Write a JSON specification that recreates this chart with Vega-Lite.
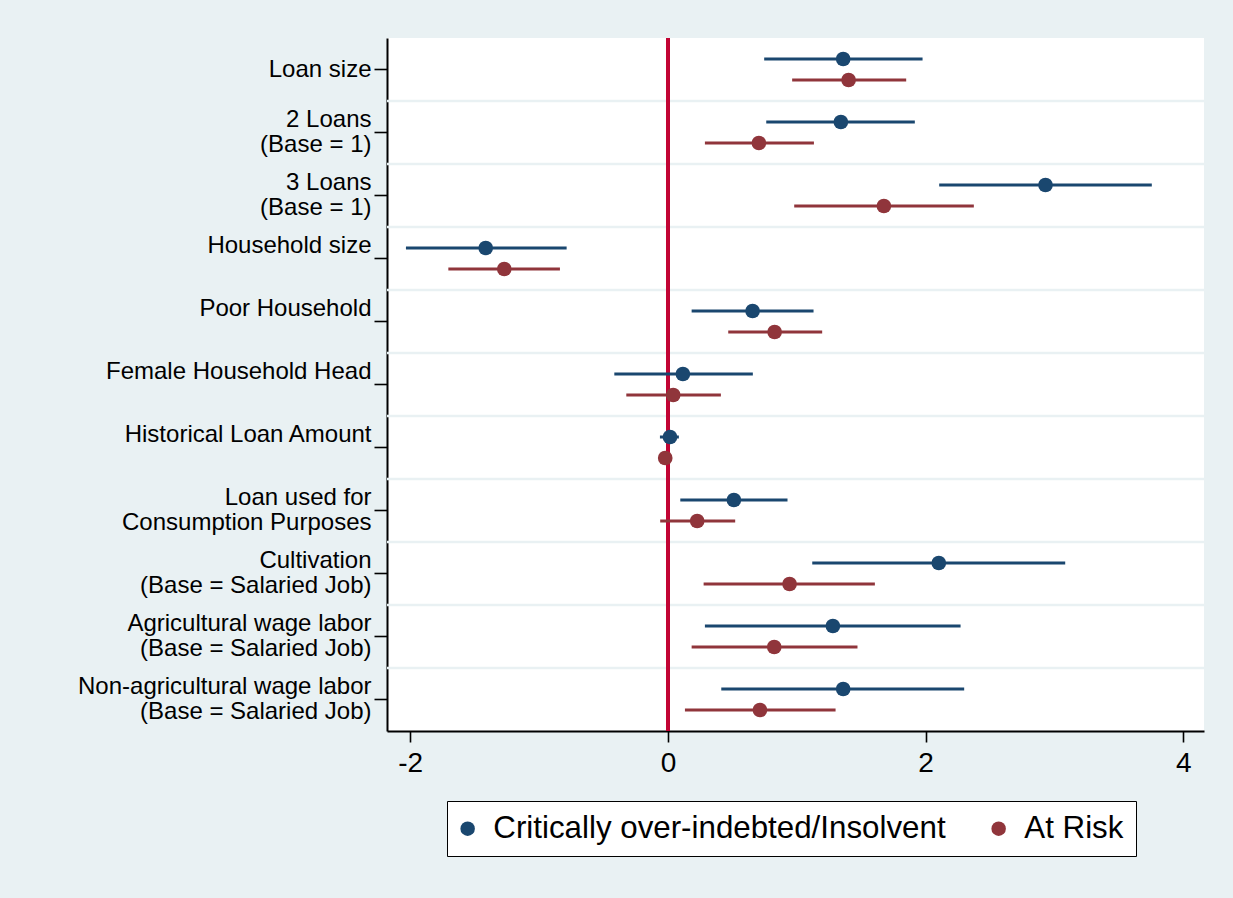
{
  "$schema": "https://vega.github.io/schema/vega-lite/v6.json",
  "width": 817,
  "height": 693,
  "autosize": {"type": "none"},
  "padding": {"left": 387, "top": 38, "right": 29, "bottom": 167},
  "background": "#E9F1F3",
  "config": {
    "view": {"fill": "white", "stroke": null},
    "font": "Liberation Sans",
    "axis": {"labelFont": "Liberation Sans", "labelColor": "black", "tickColor": "black", "domainColor": "black", "domainWidth": 2, "tickWidth": 1.6, "grid": false, "title": null},
    "legend": {"orient": "none", "legendX": 60, "legendY": 763, "direction": "horizontal", "strokeColor": "black", "fillColor": "white", "padding": 12, "labelFont": "Liberation Sans", "labelFontSize": 31.3, "labelColor": "black", "labelLimit": 0, "symbolSize": 210, "symbolType": "circle", "symbolOffset": -7, "labelOffset": 10, "columnPadding": 44, "title": null, "symbolStrokeWidth": 0, "symbolOpacity": 1}
  },
  "data": {"values": [
    {"var": "Loan size", "series": "Critically over-indebted/Insolvent", "est": 1.360, "lo": 0.747, "hi": 1.976},
    {"var": "Loan size", "series": "At Risk", "est": 1.402, "lo": 0.964, "hi": 1.849},
    {"var": "2 Loans|(Base = 1)", "series": "Critically over-indebted/Insolvent", "est": 1.342, "lo": 0.763, "hi": 1.916},
    {"var": "2 Loans|(Base = 1)", "series": "At Risk", "est": 0.706, "lo": 0.287, "hi": 1.133},
    {"var": "3 Loans|(Base = 1)", "series": "Critically over-indebted/Insolvent", "est": 2.930, "lo": 2.105, "hi": 3.755},
    {"var": "3 Loans|(Base = 1)", "series": "At Risk", "est": 1.676, "lo": 0.980, "hi": 2.374},
    {"var": "Household size|", "series": "Critically over-indebted/Insolvent", "est": -1.414, "lo": -2.033, "hi": -0.786},
    {"var": "Household size|", "series": "At Risk", "est": -1.270, "lo": -1.704, "hi": -0.838},
    {"var": "Poor Household|", "series": "Critically over-indebted/Insolvent", "est": 0.657, "lo": 0.184, "hi": 1.130},
    {"var": "Poor Household|", "series": "At Risk", "est": 0.828, "lo": 0.468, "hi": 1.197},
    {"var": "Female Household Head|", "series": "Critically over-indebted/Insolvent", "est": 0.116, "lo": -0.416, "hi": 0.659},
    {"var": "Female Household Head|", "series": "At Risk", "est": 0.041, "lo": -0.323, "hi": 0.411},
    {"var": "Historical Loan Amount|", "series": "Critically over-indebted/Insolvent", "est": 0.016, "lo": -0.062, "hi": 0.085},
    {"var": "Historical Loan Amount|", "series": "At Risk", "est": -0.021, "lo": -0.035, "hi": -0.008},
    {"var": "Loan used for|Consumption Purposes", "series": "Critically over-indebted/Insolvent", "est": 0.512, "lo": 0.096, "hi": 0.928},
    {"var": "Loan used for|Consumption Purposes", "series": "At Risk", "est": 0.227, "lo": -0.060, "hi": 0.522},
    {"var": "Cultivation|(Base = Salaried Job)", "series": "Critically over-indebted/Insolvent", "est": 2.102, "lo": 1.120, "hi": 3.083},
    {"var": "Cultivation|(Base = Salaried Job)", "series": "At Risk", "est": 0.944, "lo": 0.277, "hi": 1.606},
    {"var": "Agricultural wage labor|(Base = Salaried Job)", "series": "Critically over-indebted/Insolvent", "est": 1.280, "lo": 0.287, "hi": 2.271},
    {"var": "Agricultural wage labor|(Base = Salaried Job)", "series": "At Risk", "est": 0.825, "lo": 0.184, "hi": 1.471},
    {"var": "Non-agricultural wage labor|(Base = Salaried Job)", "series": "Critically over-indebted/Insolvent", "est": 1.360, "lo": 0.414, "hi": 2.299},
    {"var": "Non-agricultural wage labor|(Base = Salaried Job)", "series": "At Risk", "est": 0.714, "lo": 0.132, "hi": 1.301}
  ]},
  "encoding": {
    "y": {
      "field": "var", "type": "nominal",
      "sort": ["Loan size", "2 Loans|(Base = 1)", "3 Loans|(Base = 1)", "Household size|", "Poor Household|", "Female Household Head|", "Historical Loan Amount|", "Loan used for|Consumption Purposes", "Cultivation|(Base = Salaried Job)", "Agricultural wage labor|(Base = Salaried Job)", "Non-agricultural wage labor|(Base = Salaried Job)"],
      "scale": {"paddingInner": 0, "paddingOuter": 0},
      "axis": {"labelExpr": "split(datum.label, '|')", "labelFontSize": 24, "labelLineHeight": 25, "labelLimit": 0, "tickSize": 13, "labelPadding": 3,
        "labelOffset": {"condition": {"test": "datum.label == 'Loan size'", "value": 0}, "value": -12.5}}
    }
  },
  "layer": [
    {
      "transform": [{"filter": "datum.series == 'At Risk' && datum['var'] != 'Loan size'"}],
      "mark": {"type": "rule", "color": "#E9F1F3", "strokeWidth": 2.5},
      "encoding": {
        "y": {"field": "var", "type": "nominal", "bandPosition": 0,
          "sort": ["Loan size", "2 Loans|(Base = 1)", "3 Loans|(Base = 1)", "Household size|", "Poor Household|", "Female Household Head|", "Historical Loan Amount|", "Loan used for|Consumption Purposes", "Cultivation|(Base = Salaried Job)", "Agricultural wage labor|(Base = Salaried Job)", "Non-agricultural wage labor|(Base = Salaried Job)"]}
      }
    },
    {
      "mark": {"type": "rule", "color": "#C10534", "strokeWidth": 2.5},
      "encoding": {"x": {"datum": 0, "type": "quantitative"}, "y": null}
    },
    {
      "mark": {"type": "rule", "strokeWidth": 3},
      "encoding": {
        "x": {"field": "lo", "type": "quantitative",
          "scale": {"domain": [-2.18, 4.16], "nice": false, "zero": false},
          "axis": {"values": [-2, 0, 2, 4], "labelExpr": "datum.value + ''", "labelFontSize": 28, "tickSize": 11, "labelPadding": 7, "labelFlush": false}},
        "x2": {"field": "hi"},
        "yOffset": {"field": "series", "sort": ["Critically over-indebted/Insolvent", "At Risk"], "scale": {"paddingInner": 0, "paddingOuter": 0.5}},
        "color": {"field": "series", "type": "nominal", "sort": ["Critically over-indebted/Insolvent", "At Risk"],
          "scale": {"domain": ["Critically over-indebted/Insolvent", "At Risk"], "range": ["#1A476F", "#90353B"]}}
      }
    },
    {
      "mark": {"type": "circle", "size": 215, "opacity": 1},
      "encoding": {
        "x": {"field": "est", "type": "quantitative"},
        "yOffset": {"field": "series", "sort": ["Critically over-indebted/Insolvent", "At Risk"]},
        "color": {"field": "series", "type": "nominal", "sort": ["Critically over-indebted/Insolvent", "At Risk"]}
      }
    }
  ]
}
